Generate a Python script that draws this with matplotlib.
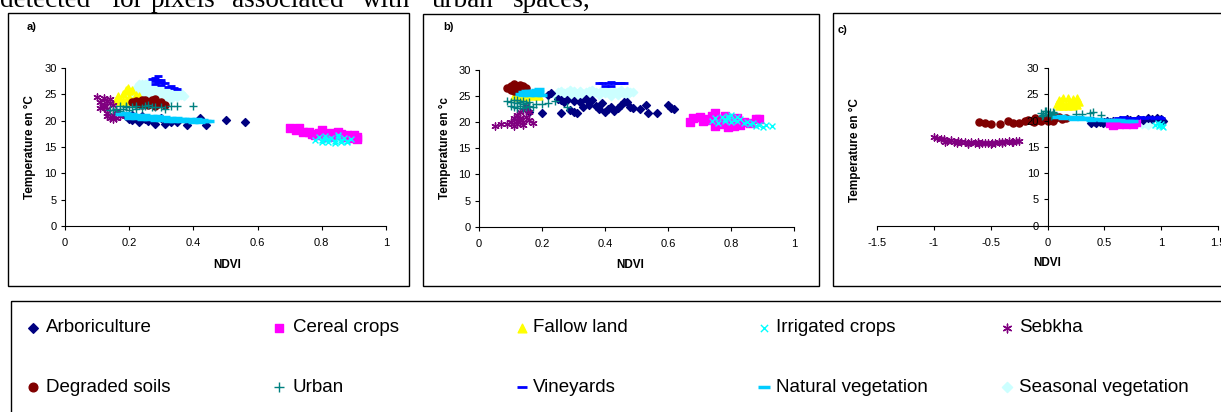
import matplotlib
matplotlib.use('Agg')
import matplotlib.pyplot as plt
from matplotlib.patches import Rectangle

plt.rcParams['font.family'] = ['Liberation Sans', 'DejaVu Sans']

#######################################################################################################
# NDVI / surface temperature values per land-cover class
#######################################################################################################
class_keys = ['arbo', 'cereal', 'fallow', 'irrig', 'sebkha', 'degraded', 'urban', 'vine', 'natural', 'seasonal']
class_labels = ['Arboriculture', 'Cereal crops', 'Fallow land', 'Irrigated crops', 'Sebkha',
                'Degraded soils', 'Urban', 'Vineyards', 'Natural vegetation', 'Seasonal vegetation']

# ---- panel a)
a_arbo_x = [0.19, 0.20, 0.21, 0.22, 0.23, 0.25, 0.26, 0.28, 0.31, 0.33, 0.35, 0.38, 0.42, 0.44, 0.50, 0.56, 0.21, 0.24, 0.27, 0.30]
a_arbo_y = [20.8, 20.4, 20.1, 20.6, 19.8, 20.3, 20.0, 19.3, 19.3, 19.7, 19.7, 19.2, 20.6, 19.2, 20.2, 19.8, 21.0, 20.8, 20.1, 20.5]
a_cereal_x = [0.70, 0.72, 0.73, 0.74, 0.76, 0.77, 0.79, 0.80, 0.81, 0.83, 0.84, 0.86, 0.87, 0.88, 0.89, 0.90, 0.91, 0.91, 0.78, 0.82, 0.85]
a_cereal_y = [18.6, 18.2, 18.6, 17.8, 17.9, 17.4, 17.6, 18.2, 17.5, 17.7, 17.3, 17.5, 16.9, 17.2, 16.8, 17.3, 16.9, 16.5, 17.2, 16.9, 17.9]
a_fallow_x = [0.16, 0.165, 0.17, 0.18, 0.18, 0.19, 0.195, 0.20, 0.20, 0.21, 0.21, 0.22, 0.17, 0.19, 0.22, 0.23]
a_fallow_y = [24.0, 24.6, 23.9, 23.8, 25.0, 25.8, 26.2, 25.6, 24.5, 25.9, 23.8, 24.8, 23.6, 23.8, 23.9, 24.6]
a_irrig_x = [0.78, 0.79, 0.80, 0.81, 0.82, 0.83, 0.84, 0.85, 0.86, 0.87, 0.88, 0.89, 0.80, 0.82, 0.84, 0.86, 0.88, 0.81, 0.85]
a_irrig_y = [16.3, 16.9, 16.4, 17.1, 16.5, 16.8, 16.2, 16.9, 16.4, 16.7, 16.1, 16.5, 15.9, 16.0, 15.8, 15.9, 16.0, 16.6, 17.2]
a_sebkha_x = [0.10, 0.11, 0.12, 0.12, 0.13, 0.13, 0.14, 0.14, 0.15, 0.15, 0.16, 0.16, 0.17, 0.12, 0.13, 0.14, 0.15, 0.11, 0.13]
a_sebkha_y = [24.5, 23.6, 24.3, 22.5, 23.8, 21.5, 24.2, 20.6, 22.9, 21.0, 21.8, 20.5, 20.8, 23.0, 22.2, 23.3, 20.3, 22.4, 20.9]
a_degraded_x = [0.21, 0.22, 0.23, 0.24, 0.25, 0.26, 0.27, 0.28, 0.29, 0.30, 0.31, 0.24, 0.26, 0.28, 0.22, 0.27, 0.25]
a_degraded_y = [23.5, 23.8, 23.3, 23.9, 24.0, 23.4, 23.9, 24.1, 23.2, 23.5, 23.0, 22.9, 22.9, 22.8, 23.1, 23.6, 23.5]
a_urban_x = [0.14, 0.15, 0.16, 0.17, 0.18, 0.19, 0.20, 0.21, 0.22, 0.24, 0.25, 0.26, 0.27, 0.28, 0.30, 0.31, 0.33, 0.35, 0.40, 0.17, 0.22, 0.19]
a_urban_y = [22.0, 22.1, 22.3, 22.7, 22.2, 22.6, 22.0, 22.6, 22.8, 22.4, 22.7, 22.9, 22.5, 22.6, 22.5, 22.3, 22.8, 22.8, 22.8, 21.9, 22.2, 22.8]
a_vine_x = [0.27, 0.28, 0.29, 0.30, 0.28, 0.29, 0.30, 0.28, 0.31, 0.30, 0.33, 0.34, 0.35, 0.32, 0.29]
a_vine_y = [28.0, 28.1, 28.4, 27.8, 27.6, 27.4, 27.3, 27.0, 27.1, 26.8, 26.5, 26.2, 26.0, 26.4, 27.8]
a_natural_x = [0.17, 0.18, 0.19, 0.20, 0.21, 0.22, 0.23, 0.24, 0.25, 0.26, 0.27, 0.28, 0.29, 0.30, 0.31, 0.32, 0.33, 0.34,
               0.35, 0.36, 0.37, 0.38, 0.39, 0.40, 0.41, 0.42, 0.43, 0.44, 0.45, 0.20, 0.22, 0.24, 0.26, 0.28, 0.30, 0.32,
               0.34, 0.36, 0.38, 0.40, 0.42]
a_natural_y = [21.3, 21.2, 21.4, 21.0, 21.3, 20.9, 21.1, 20.8, 21.0, 20.7, 20.9, 20.6, 20.8, 20.5, 20.7, 20.4, 20.6, 20.4,
               20.5, 20.3, 20.4, 20.2, 20.4, 20.2, 20.3, 20.1, 20.2, 20.0, 20.0, 20.6, 20.5, 20.4, 20.3, 20.2, 20.1, 20.0,
               20.0, 19.9, 19.9, 19.8, 19.7]
a_seasonal_x = [0.20, 0.21, 0.22, 0.23, 0.24, 0.24, 0.25, 0.26, 0.27, 0.28, 0.29, 0.30, 0.31, 0.32, 0.33, 0.34, 0.35, 0.36,
                0.37, 0.22, 0.25, 0.27, 0.29, 0.31, 0.33, 0.26, 0.23, 0.28, 0.25, 0.27, 0.30, 0.32, 0.34, 0.36, 0.23, 0.26]
a_seasonal_y = [24.8, 25.5, 26.2, 26.6, 27.0, 25.2, 26.5, 26.8, 25.9, 26.3, 25.4, 25.8, 24.9, 25.3, 24.6, 25.1, 24.5, 24.8,
                24.6, 24.4, 24.4, 24.8, 24.5, 24.3, 24.2, 25.6, 25.8, 24.3, 26.9, 26.6, 26.2, 25.9, 25.6, 25.3, 27.0, 27.1]

# ---- panel b)
b_arbo_x = [0.16, 0.20, 0.22, 0.23, 0.25, 0.26, 0.27, 0.28, 0.29, 0.30, 0.31, 0.32, 0.33, 0.34, 0.35, 0.36, 0.37, 0.38, 0.39,
            0.40, 0.41, 0.42, 0.43, 0.44, 0.45, 0.46, 0.47, 0.48, 0.49, 0.51, 0.53, 0.535, 0.565, 0.60, 0.61, 0.62, 0.30, 0.26]
b_arbo_y = [22.0, 21.8, 25.3, 25.6, 24.5, 24.2, 23.8, 24.2, 22.3, 24.0, 21.8, 23.9, 23.0, 24.4, 23.3, 24.2, 23.2, 22.6, 23.7,
            22.0, 22.6, 23.0, 22.2, 22.8, 23.3, 23.8, 23.8, 23.0, 22.7, 22.5, 23.3, 21.8, 21.8, 23.3, 22.8, 22.5, 21.9, 21.8]
b_cereal_x = [0.67, 0.68, 0.70, 0.71, 0.72, 0.74, 0.75, 0.76, 0.77, 0.78, 0.79, 0.80, 0.81, 0.82, 0.83, 0.84, 0.86, 0.88, 0.89, 0.75, 0.79, 0.73]
b_cereal_y = [20.0, 20.8, 21.0, 20.3, 20.6, 21.2, 19.2, 20.5, 19.6, 21.1, 19.0, 20.6, 19.3, 20.9, 19.5, 20.0, 19.8, 20.6, 20.7, 21.7, 20.2, 20.4]
b_fallow_x = [0.11, 0.12, 0.13, 0.14, 0.15, 0.16, 0.17, 0.18, 0.19, 0.12, 0.14]
b_fallow_y = [25.0, 25.4, 25.1, 25.6, 24.9, 25.3, 25.0, 25.4, 25.0, 24.8, 24.8]
b_irrig_x = [0.74, 0.75, 0.76, 0.77, 0.78, 0.79, 0.80, 0.80, 0.81, 0.82, 0.83, 0.84, 0.85, 0.86, 0.87, 0.88, 0.89, 0.90,
             0.91, 0.93, 0.78, 0.82, 0.79]
b_irrig_y = [20.3, 20.8, 19.9, 21.0, 20.2, 20.9, 20.0, 21.4, 20.5, 20.2, 20.6, 19.9, 20.1, 19.6, 19.8, 19.3, 19.5, 19.1,
             19.4, 19.2, 20.6, 21.0, 21.2]
b_sebkha_x = [0.05, 0.07, 0.09, 0.11, 0.10, 0.11, 0.12, 0.12, 0.13, 0.13, 0.14, 0.14, 0.15, 0.15, 0.16, 0.16, 0.17, 0.12, 0.14, 0.15, 0.13]
b_sebkha_y = [19.3, 19.7, 19.7, 19.3, 20.0, 20.8, 20.2, 21.4, 20.5, 21.9, 20.1, 22.3, 21.0, 22.7, 20.4, 22.0, 19.8, 19.6, 19.5, 23.1, 20.9]
b_degraded_x = [0.09, 0.10, 0.10, 0.11, 0.11, 0.12, 0.12, 0.13, 0.13, 0.14, 0.14, 0.15, 0.11, 0.13]
b_degraded_y = [26.6, 26.2, 27.0, 26.5, 27.3, 26.1, 26.8, 27.2, 26.4, 26.9, 26.3, 26.6, 25.9, 25.9]
b_urban_x = [0.09, 0.10, 0.10, 0.11, 0.11, 0.12, 0.12, 0.13, 0.13, 0.14, 0.14, 0.15, 0.15, 0.16, 0.16, 0.17, 0.18, 0.20,
             0.22, 0.24, 0.28, 0.12, 0.14]
b_urban_y = [24.0, 23.2, 23.8, 24.2, 23.0, 23.6, 24.3, 23.1, 23.9, 23.4, 24.0, 22.9, 23.6, 23.2, 23.8, 23.0, 23.4, 23.5,
             23.7, 24.1, 22.9, 22.8, 22.8]
b_vine_x = [0.38, 0.39, 0.41, 0.42, 0.43, 0.44, 0.45, 0.46, 0.40, 0.42]
b_vine_y = [27.6, 27.6, 27.5, 27.7, 27.6, 27.6, 27.6, 27.6, 27.0, 27.0]
b_natural_x = [0.13, 0.14, 0.15, 0.16, 0.17, 0.18, 0.19, 0.20, 0.14, 0.16, 0.18, 0.19, 0.15, 0.17]
b_natural_y = [25.5, 25.8, 25.4, 25.9, 25.6, 26.1, 25.7, 25.3, 25.2, 25.3, 25.2, 26.4, 26.0, 25.9]
b_seasonal_x = [0.24, 0.25, 0.26, 0.27, 0.28, 0.29, 0.30, 0.31, 0.32, 0.33, 0.34, 0.35, 0.36, 0.37, 0.38, 0.39, 0.40, 0.41,
                0.42, 0.43, 0.44, 0.45, 0.46, 0.47, 0.48, 0.49, 0.26, 0.29, 0.32, 0.35, 0.38, 0.41, 0.44, 0.47, 0.30, 0.36, 0.42]
b_seasonal_y = [25.3, 25.7, 25.2, 25.6, 25.8, 25.3, 25.7, 25.4, 25.9, 25.5, 25.7, 26.0, 25.4, 25.8, 25.5, 26.1, 25.6, 25.9,
                25.4, 26.0, 25.7, 26.1, 25.5, 25.9, 25.8, 25.8, 26.0, 26.1, 25.2, 25.2, 25.2, 26.2, 25.3, 25.3, 26.0, 26.2, 25.1]

# ---- panel c)
c_arbo_x = [0.38, 0.40, 0.43, 0.46, 0.49, 0.52, 0.55, 0.58, 0.61, 0.64, 0.67, 0.70, 0.73, 0.76, 0.80, 0.84, 0.88, 0.92, 0.96, 1.00, 1.02, 0.42, 0.50]
c_arbo_y = [19.6, 19.9, 19.5, 19.8, 19.6, 19.9, 19.7, 20.0, 19.8, 20.2, 20.0, 20.3, 20.1, 20.0, 20.3, 20.2, 20.4, 20.3, 20.4, 20.3, 20.0, 19.8, 19.7]
c_cereal_x = [0.55, 0.58, 0.60, 0.63, 0.66, 0.69, 0.72, 0.75, 0.78, 0.62, 0.68]
c_cereal_y = [19.5, 19.2, 19.6, 19.3, 19.5, 19.3, 19.6, 19.4, 19.7, 19.8, 19.9]
c_fallow_x = [0.08, 0.10, 0.12, 0.14, 0.16, 0.18, 0.20, 0.22, 0.24, 0.26, 0.28, 0.10, 0.14, 0.18, 0.22, 0.26, 0.12, 0.20]
c_fallow_y = [23.2, 24.0, 23.4, 24.2, 23.0, 24.3, 23.6, 24.1, 23.1, 24.2, 23.5, 22.8, 22.8, 22.8, 22.8, 22.9, 23.8, 23.0]
c_irrig_x = [0.95, 0.98, 1.00, 1.02, 0.97, 1.01]
c_irrig_y = [19.2, 18.9, 19.3, 18.8, 19.5, 19.0]
c_sebkha_x = [-1.00, -0.97, -0.94, -0.91, -0.88, -0.85, -0.82, -0.79, -0.76, -0.73, -0.70, -0.67, -0.64, -0.61, -0.58, -0.55,
              -0.52, -0.49, -0.46, -0.43, -0.40, -0.37, -0.34, -0.31, -0.28, -0.25, -0.90, -0.80, -0.70, -0.60, -0.50, -0.40, -0.30]
c_sebkha_y = [16.8, 16.6, 16.4, 16.5, 16.2, 16.3, 16.0, 16.1, 15.9, 16.0, 15.8, 16.0, 15.8, 15.9, 15.7, 15.8,
              15.7, 15.8, 15.8, 15.9, 15.9, 16.0, 16.1, 16.0, 16.2, 16.2, 16.0, 15.8, 15.6, 15.6, 15.5, 15.7, 15.9]
c_degraded_x = [-0.60, -0.55, -0.50, -0.42, -0.35, -0.30, -0.25, -0.20, -0.17, -0.14, -0.11, -0.08, -0.05, -0.02, 0.01, 0.04,
                0.07, 0.10, 0.13, 0.16, -0.12, -0.06, 0.00, 0.05]
c_degraded_y = [19.7, 19.6, 19.3, 19.4, 19.9, 19.6, 19.6, 19.9, 20.2, 20.0, 20.4, 20.1, 20.5, 20.3, 20.6, 20.2,
                20.4, 20.6, 20.3, 20.5, 19.8, 19.9, 20.0, 20.0]
c_urban_x = [-0.06, -0.04, -0.02, 0.00, 0.02, 0.04, 0.06, -0.05, -0.01, 0.03, 0.05, 0.25, 0.30, 0.37, 0.40, 0.47]
c_urban_y = [21.5, 21.0, 21.8, 21.3, 21.6, 21.1, 21.4, 20.9, 21.9, 20.8, 21.7, 21.3, 21.3, 21.5, 21.6, 21.0]
c_vine_x = [0.62, 0.66, 0.70, 0.74, 0.78, 0.82, 0.86, 0.90, 0.94, 0.98, 1.00]
c_vine_y = [20.5, 20.6, 20.5, 20.4, 20.5, 20.6, 20.5, 20.6, 20.5, 20.6, 20.4]
c_natural_x = [0.08, 0.12, 0.16, 0.20, 0.24, 0.28, 0.32, 0.36, 0.40, 0.44, 0.48, 0.52, 0.56, 0.60, 0.64, 0.68, 0.72, 0.75,
               0.14, 0.22, 0.30, 0.38]
c_natural_y = [20.7, 20.8, 20.6, 20.6, 20.5, 20.6, 20.4, 20.4, 20.3, 20.3, 20.2, 20.2, 20.1, 20.1, 20.1, 20.0, 20.0, 20.0,
               20.4, 20.3, 20.3, 20.2]
c_seasonal_x = [0.75, 0.78, 0.80, 0.83, 0.86, 0.88, 0.91, 0.94, 0.97, 1.00, 0.82, 0.90, 0.96]
c_seasonal_y = [19.5, 19.3, 19.7, 19.4, 19.6, 19.2, 19.7, 19.4, 19.6, 19.5, 19.9, 19.9, 19.2]

x_ticks_ab = [0, 0.2, 0.4, 0.6, 0.8, 1]
x_ticks_c = [-1.5, -1, -0.5, 0, 0.5, 1, 1.5]
y_ticks = [0, 5, 10, 15, 20, 25, 30]


#######################################################################################################
# marker styles (Excel-like)
#######################################################################################################
styles = {
    'arbo': dict(marker='D', color='#000080', s=16),
    'cereal': dict(marker='s', color='#FF00FF', s=26),
    'fallow': dict(marker='^', color='#FFFF00', s=26),
    'irrig': dict(marker='x', color='#00FFFF', s=18, linewidths=1),
    'sebkha': dict(marker=(6, 2, 0), color='#800080', s=26, linewidths=1),
    'degraded': dict(marker='o', color='#800000', s=26),
    'urban': dict(marker='+', color='#008080', s=28, linewidths=1),
    'vine': dict(marker='_', color='#0000FF', s=30, linewidths=2),
    'natural': dict(marker='_', color='#00CCFF', s=45, linewidths=2.5),
    'seasonal': dict(marker='D', color='#CCFFFF', s=18),
}
draw_order = ['seasonal', 'arbo', 'cereal', 'fallow', 'irrig', 'sebkha', 'degraded', 'urban', 'vine', 'natural']

panels = {
    'a': {k: (globals()['a_%s_x' % k], globals()['a_%s_y' % k]) for k in class_keys},
    'b': {k: (globals()['b_%s_x' % k], globals()['b_%s_y' % k]) for k in class_keys},
    'c': {k: (globals()['c_%s_x' % k], globals()['c_%s_y' % k]) for k in class_keys},
}


def fmt(v):
    return ('%g' % v)


def scatter_panel(ax, data, xlim, xticks, centre_spine=False):
    for k in draw_order:
        x, y = data[k]
        ax.scatter(x, y, **styles[k])
    ax.set_xlim(xlim)
    ax.set_ylim(0, 30)
    ax.set_xticks(xticks)
    ax.set_xticklabels([fmt(v) for v in xticks])
    ax.set_yticks(y_ticks)
    ax.spines['top'].set_visible(False)
    ax.spines['right'].set_visible(False)
    for sp in ['left', 'bottom']:
        ax.spines[sp].set_linewidth(0.8)
    if centre_spine:
        ax.spines['left'].set_position(('data', 0))
    ax.set_facecolor('none')
    ax.tick_params(direction='out', length=3, width=0.8, labelsize=8)
    ax.tick_params(axis='x', pad=6)
    ax.tick_params(axis='y', pad=3)


W, H = 1221, 412
fig = plt.figure(figsize=(W / 100, H / 100), dpi=100)

# overlay in pixel coordinates for frames, captions and the legend box
ov = fig.add_axes([0, 0, 1, 1])
ov.set_xlim(0, W)
ov.set_ylim(H, 0)
ov.axis('off')

# cropped line of text of the document above the figure
for word, xw in zip(['detected', 'for', 'pixels', 'associated', 'with', 'urban', 'spaces,'],
                    [0, 111, 151, 232, 362, 432, 513]):
    ov.text(xw, 7, word, family='Liberation Serif', fontsize=19.5, va='baseline', ha='left')

# panel frames
for (x0, y0, w, h) in [(8, 13, 401, 273), (423, 14, 396, 272), (833, 13, 400, 273)]:
    ov.add_patch(Rectangle((x0, y0), w, h, fill=False, edgecolor='black', linewidth=1))
ov.add_patch(Rectangle((11, 301), 1220, 130, fill=False, edgecolor='black', linewidth=1))

# panel axes, placed from pixel boxes (left, right, top, bottom)
boxes = {'a': (65, 386, 68, 226), 'b': (479, 794, 70, 226.7), 'c': (877, 1218, 68, 225.7)}
limits = {'a': ((0, 1), x_ticks_ab), 'b': ((0, 1), x_ticks_ab), 'c': ((-1.5, 1.5), x_ticks_c)}
for p in ['a', 'b', 'c']:
    l, r, t, b = boxes[p]
    ax = fig.add_axes([l / W, 1 - b / H, (r - l) / W, (b - t) / H])
    scatter_panel(ax, panels[p], limits[p][0], limits[p][1], centre_spine=(p == 'c'))

# captions
for txt, (xp, yp) in zip(['a)', 'b)', 'c)'], [(32, 26.5), (448, 26.5), (843, 30)]):
    ov.text(xp, yp, txt, fontsize=8, fontweight='bold', ha='center', va='center')
for txt, (xp, yp) in zip(['Temperature en °C', 'Temperature en °c', 'Temperature en °C'],
                         [(30, 147), (445, 148), (855, 150)]):
    ov.text(xp, yp, txt, fontsize=8.5, fontweight='bold', rotation=90, ha='center', va='center')
for xp, yp in [(227, 265), (630, 265), (1047, 263)]:
    ov.text(xp, yp, 'NDVI', fontsize=8.5, fontweight='bold', ha='center', va='center')

# legend (two rows, five columns)
col_marker = [33, 279, 522, 764, 1007]
col_text = [46, 293, 533, 776, 1019]
row_y = [328, 387]
for i, (k, lab) in enumerate(zip(class_keys, class_labels)):
    r, c = divmod(i, 5)
    st = dict(styles[k])
    st['s'] = st['s'] * 1.5
    ov.scatter([col_marker[c]], [row_y[r]], **st)
    ov.text(col_text[c], row_y[r], lab, fontsize=13.5, ha='left', va='center')

plt.savefig('out.png', dpi=100)
